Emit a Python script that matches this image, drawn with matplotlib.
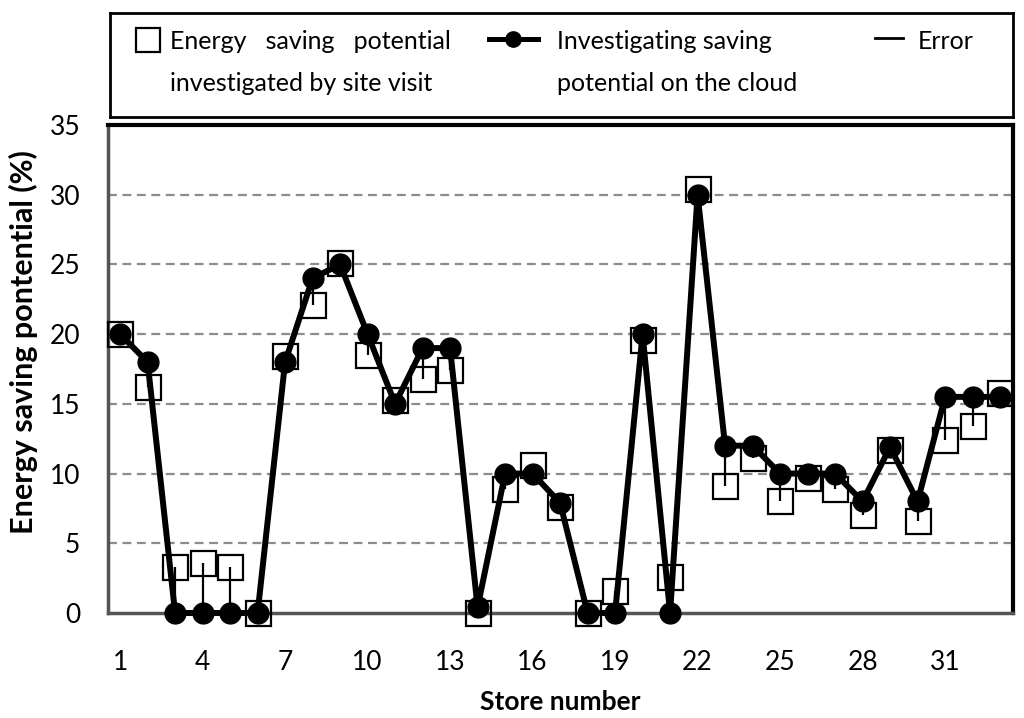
import matplotlib
matplotlib.use("Agg")
import matplotlib.pyplot as plt
import numpy as np

plt.rcParams["font.family"] = ["Lato", "DejaVu Sans"]

# store numbers 1..33 and the two estimates of saving potential (%)
stores = np.arange(1, 34)
cloud_potential = [20, 18, 0, 0, 0, 0, 18, 24, 25, 20, 15, 19, 19, 0.4, 10, 10,
                   7.9, 0, 0, 20, 0, 30, 12, 12, 10, 10, 10, 8, 11.9, 8, 15.5,
                   15.5, 15.5]
site_potential = [20, 16.2, 3.3, 3.6, 3.3, 0, 18.4, 22.1, 25.1, 18.5, 15.3, 16.8,
                  17.4, 0, 8.9, 10.6, 7.6, 0, 1.6, 19.6, 2.6, 30.4, 9.1, 11.1,
                  8.0, 9.7, 8.9, 7.0, 11.7, 6.6, 12.4, 13.4, 15.8]
xtick_stores = [1, 4, 7, 10, 13, 16, 19, 22, 25, 28, 31]
yticks = [0, 5, 10, 15, 20, 25, 30, 35]

W, H = 1024, 718
fig = plt.figure(figsize=(W / 100, H / 100), dpi=100)
ax = fig.add_axes([108 / W, 1 - 613 / H, 905 / W, 488 / H])

for y in yticks[1:-1]:
    ax.axhline(y, color="#8c8c8c", lw=1.6, ls=(0, (4, 2.5)), zorder=1)

ax.plot(stores, site_potential, ls="none", marker="s", ms=18, mfc="none",
        mec="black", mew=1.6, zorder=5, clip_on=False)
ax.vlines(stores, cloud_potential, site_potential, color="black", lw=1.6,
          zorder=6, clip_on=False)
ax.plot(stores, cloud_potential, color="black", lw=4.3, marker="o", ms=15,
        zorder=7, clip_on=False)

ax.set_xlim(0.56, 33.47)
ax.set_ylim(0, 35)
ax.set_xticks(xtick_stores)
ax.set_yticks(yticks)
ax.tick_params(length=0, labelsize=19)
ax.tick_params(axis="x", pad=27)
ax.tick_params(axis="y", pad=20)
for side in ("left", "bottom"):
    ax.spines[side].set_color("#555555")
    ax.spines[side].set_linewidth(2.5)
for side in ("top", "right"):
    ax.spines[side].set_color("black")
    ax.spines[side].set_linewidth(3)

ax.set_xlabel("Store number", fontsize=19, fontweight="bold")
ax.set_ylabel("Energy saving pontential (%)", fontsize=22, fontweight="bold")
ax.xaxis.set_label_coords(0.5, -0.157)
ax.yaxis.set_label_coords(-0.077, 0.555)

# legend box drawn as its own axes, coordinates in pixels from its top-left
leg = fig.add_axes([110 / W, 1 - 117 / H, 903 / W, 104 / H])
leg.set_xlim(0, 903)
leg.set_ylim(104, 0)
leg.set_xticks([])
leg.set_yticks([])
for s in leg.spines.values():
    s.set_linewidth(2)
    s.set_color("black")

leg.plot([38], [27], marker="s", ms=17, mfc="none", mec="black", mew=1.6)
leg.plot([379, 428], [26, 26], color="black", lw=3.6)
leg.plot([403], [26], marker="o", ms=11, color="black")
leg.plot([765, 793], [25, 25], color="black", lw=2)

txt = dict(fontsize=18, va="baseline", ha="left")
leg.text(60, 36, "Energy   saving   potential", **txt)
leg.text(60, 78, "investigated by site visit", **txt)
leg.text(447, 36, "Investigating saving", **txt)
leg.text(447, 78, "potential on the cloud", **txt)
leg.text(808, 36, "Error", **txt)

fig.savefig("out.png", dpi=100)
